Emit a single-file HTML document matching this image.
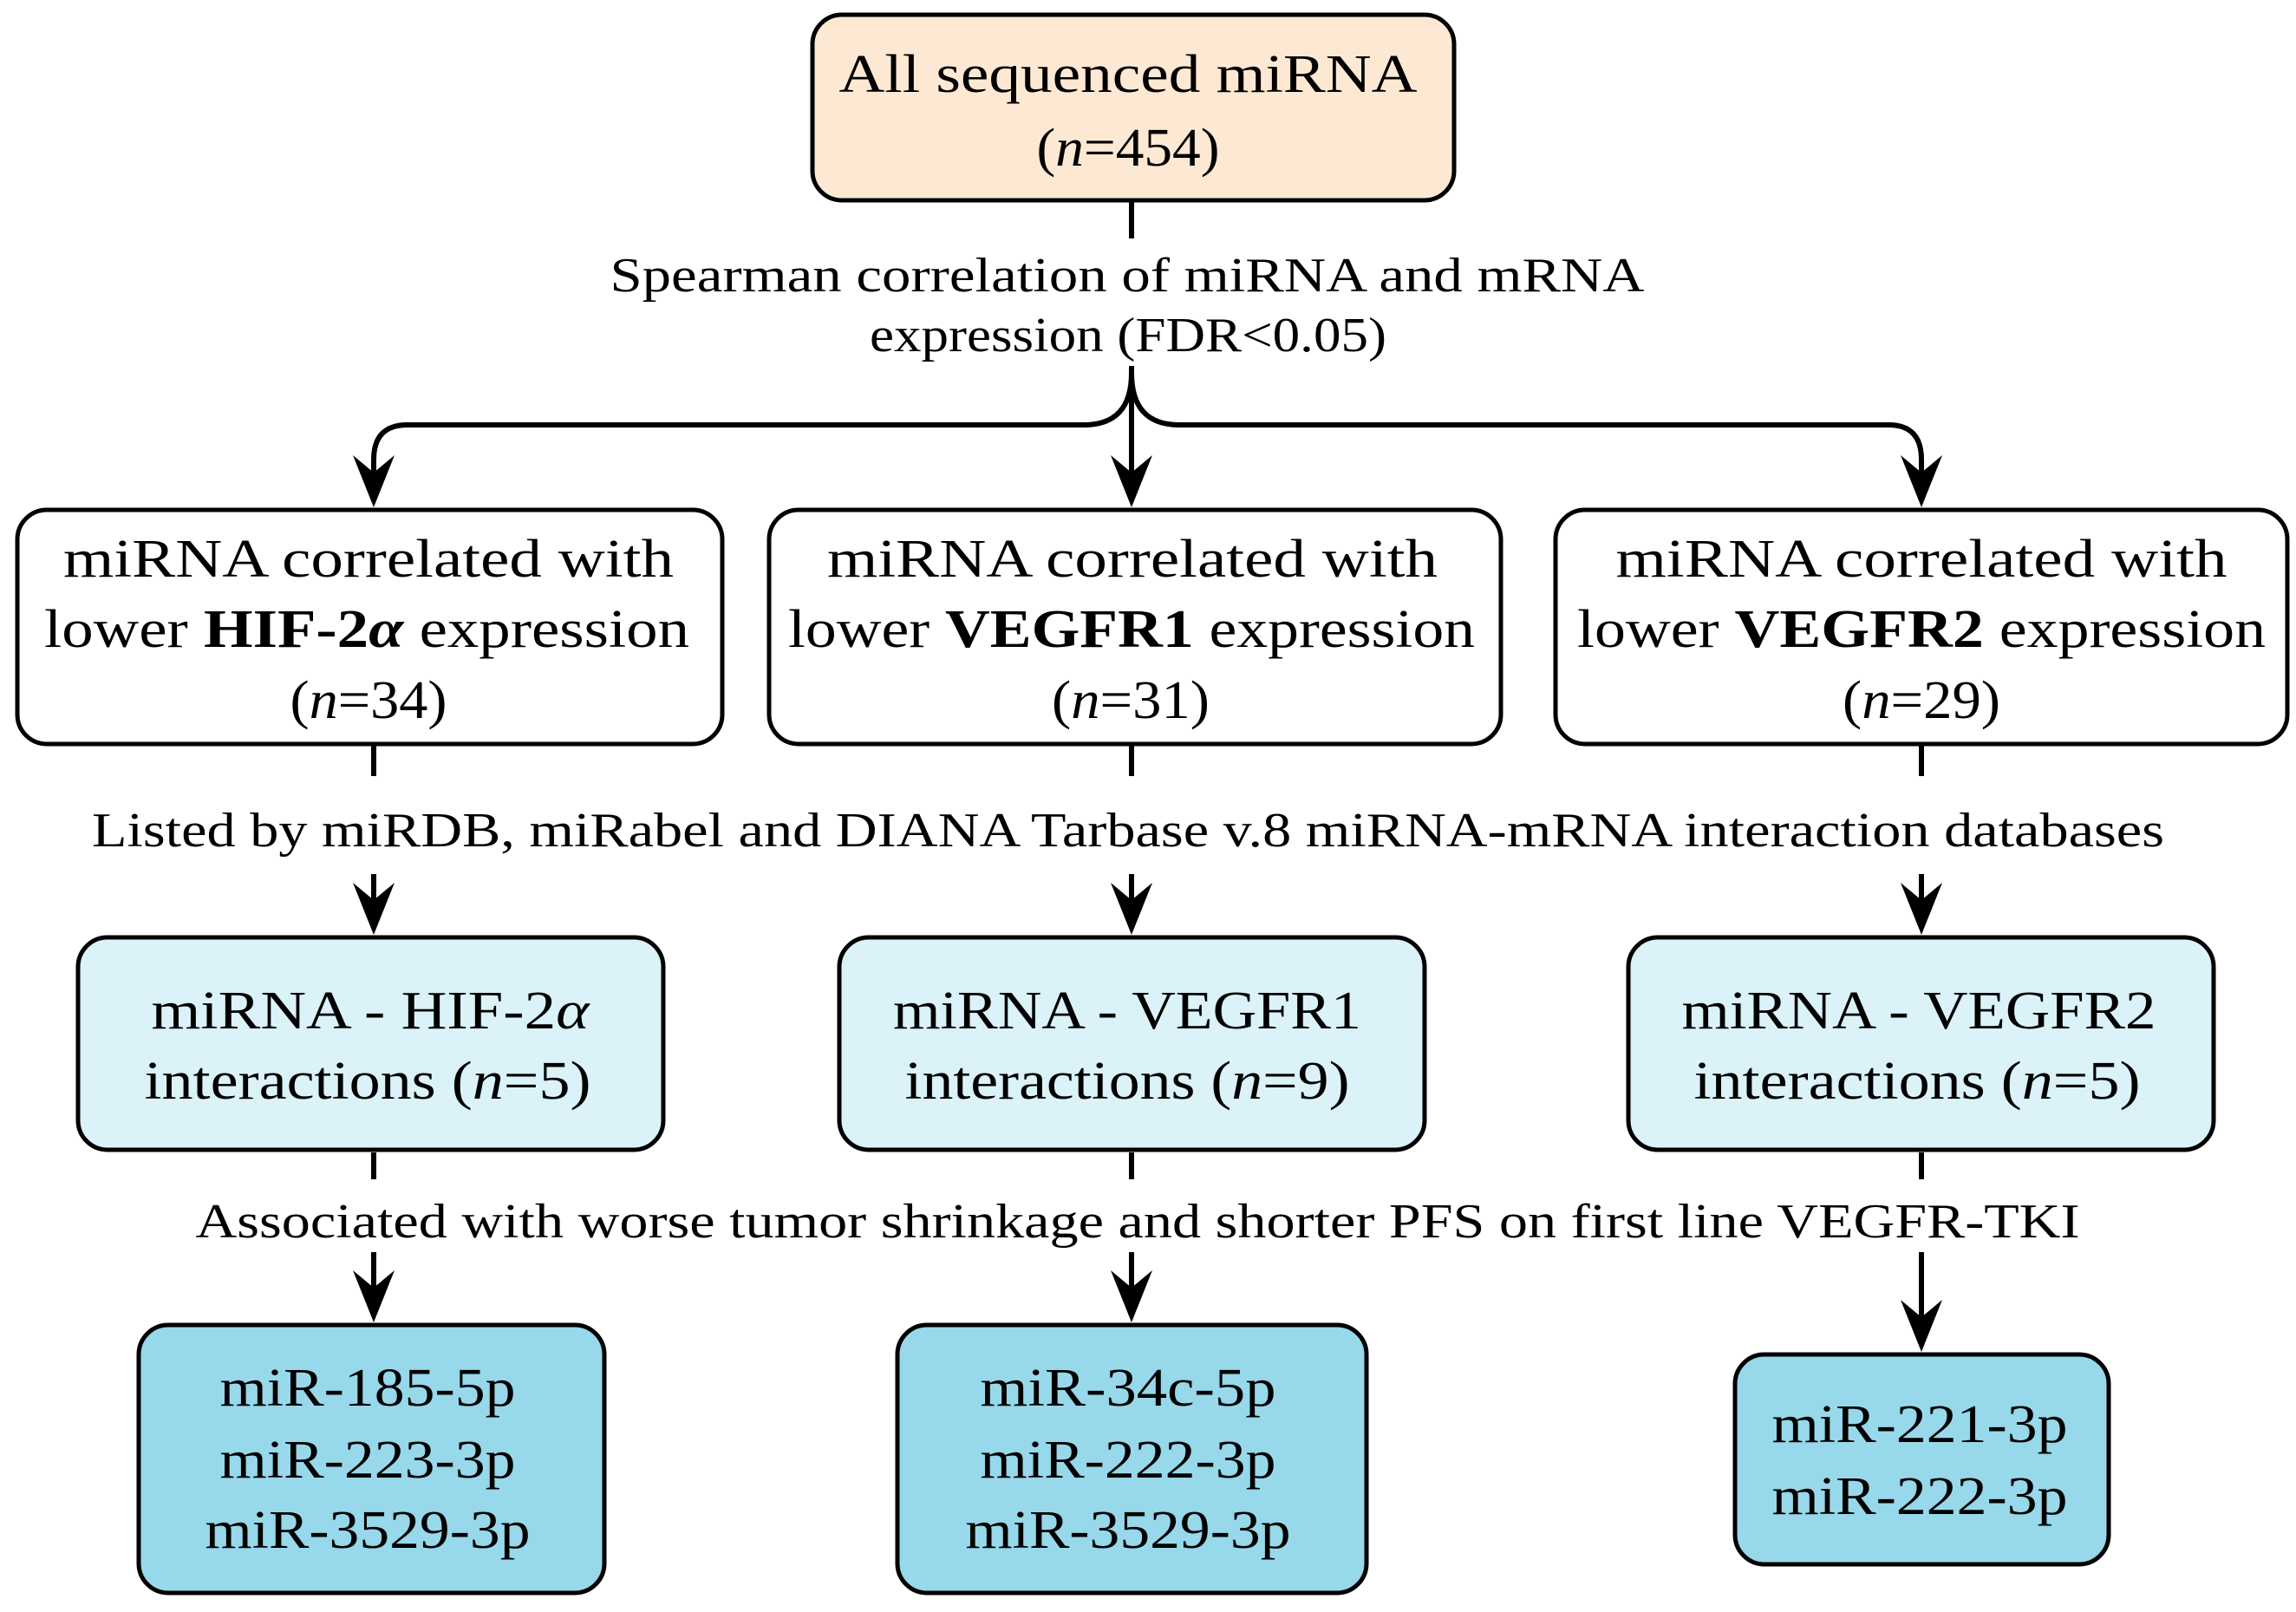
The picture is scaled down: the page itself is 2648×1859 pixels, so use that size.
<!DOCTYPE html>
<html><head><meta charset="utf-8"><style>html,body{margin:0;padding:0;background:#fff}svg{display:block}</style></head><body>
<svg width="2648" height="1859" viewBox="0 0 2648 1859" xmlns="http://www.w3.org/2000/svg" font-family="'Liberation Serif', serif" font-size="62" fill="#000">
<defs>
<path id="ah" d="M0,0 L-24,-60 L0,-40 L24,-60 Z" fill="#000"/>
</defs>
<g stroke="#000" stroke-width="5">
<rect x="937" y="17" width="740" height="214" rx="34" fill="#fde9d3"/>
<rect x="20" y="588" width="813" height="270" rx="34" fill="#fff"/>
<rect x="887" y="588" width="844" height="270" rx="34" fill="#fff"/>
<rect x="1794" y="588" width="844" height="270" rx="34" fill="#fff"/>
<rect x="90" y="1081" width="675" height="245" rx="34" fill="#daf2f8"/>
<rect x="968" y="1081" width="675" height="245" rx="34" fill="#daf2f8"/>
<rect x="1878" y="1081" width="675" height="245" rx="34" fill="#daf2f8"/>
<rect x="160" y="1528" width="537" height="309" rx="34" fill="#97d8ea"/>
<rect x="1035" y="1528" width="541" height="309" rx="34" fill="#97d8ea"/>
<rect x="2001" y="1562" width="431" height="242" rx="34" fill="#97d8ea"/>
</g>
<g stroke="#000" stroke-width="6" fill="none">
<line x1="1305" y1="231" x2="1305" y2="275"/>
<path d="M1305,422 L1305,560"/>
<path d="M1305,430 Q1305,490 1250,490 L470,490 Q431,490 431,530 L431,560"/>
<path d="M1305,430 Q1305,490 1360,490 L2178,490 Q2216,490 2216,530 L2216,560"/>
<line x1="431" y1="858" x2="431" y2="895"/>
<line x1="1305" y1="858" x2="1305" y2="895"/>
<line x1="2216" y1="858" x2="2216" y2="895"/>
<line x1="431" y1="1008" x2="431" y2="1050"/>
<line x1="1305" y1="1008" x2="1305" y2="1050"/>
<line x1="2216" y1="1008" x2="2216" y2="1050"/>
<line x1="431" y1="1329" x2="431" y2="1360"/>
<line x1="1305" y1="1329" x2="1305" y2="1360"/>
<line x1="2216" y1="1329" x2="2216" y2="1360"/>
<line x1="431" y1="1444" x2="431" y2="1495"/>
<line x1="1305" y1="1444" x2="1305" y2="1495"/>
<line x1="2216" y1="1444" x2="2216" y2="1530"/>
</g>
<use href="#ah" x="431" y="585"/><use href="#ah" x="1305" y="585"/><use href="#ah" x="2216" y="585"/>
<use href="#ah" x="431" y="1078"/><use href="#ah" x="1305" y="1078"/><use href="#ah" x="2216" y="1078"/>
<use href="#ah" x="431" y="1525"/><use href="#ah" x="1305" y="1525"/><use href="#ah" x="2216" y="1559"/>
<g text-anchor="middle">
<text x="1301" y="106" textLength="667" lengthAdjust="spacingAndGlyphs">All sequenced miRNA</text>
<text x="1301" y="191" textLength="211" lengthAdjust="spacingAndGlyphs">(<tspan font-style="italic">n</tspan>=454)</text>
<text x="1300" y="336" font-size="56" textLength="1193" lengthAdjust="spacingAndGlyphs">Spearman correlation of miRNA and mRNA</text>
<text x="1301" y="405" font-size="56" textLength="596" lengthAdjust="spacingAndGlyphs">expression (FDR&lt;0.05)</text>

<text x="425" y="665" textLength="704" lengthAdjust="spacingAndGlyphs">miRNA correlated with</text>
<text x="423" y="746" textLength="744" lengthAdjust="spacingAndGlyphs">lower <tspan font-weight="bold">HIF-2<tspan font-style="italic">α</tspan></tspan> expression</text>
<text x="425" y="828" textLength="181" lengthAdjust="spacingAndGlyphs">(<tspan font-style="italic">n</tspan>=34)</text>

<text x="1306" y="665" textLength="704" lengthAdjust="spacingAndGlyphs">miRNA correlated with</text>
<text x="1305" y="746" textLength="792" lengthAdjust="spacingAndGlyphs">lower <tspan font-weight="bold">VEGFR1</tspan> expression</text>
<text x="1304" y="828" textLength="182" lengthAdjust="spacingAndGlyphs">(<tspan font-style="italic">n</tspan>=31)</text>

<text x="2216" y="665" textLength="705" lengthAdjust="spacingAndGlyphs">miRNA correlated with</text>
<text x="2216" y="746" textLength="794" lengthAdjust="spacingAndGlyphs">lower <tspan font-weight="bold">VEGFR2</tspan> expression</text>
<text x="2216" y="828" textLength="182" lengthAdjust="spacingAndGlyphs">(<tspan font-style="italic">n</tspan>=29)</text>

<text x="1301" y="976" font-size="56" textLength="2390" lengthAdjust="spacingAndGlyphs">Listed by miRDB, miRabel and DIANA Tarbase v.8 miRNA-mRNA interaction databases</text>

<text x="427" y="1186" textLength="505" lengthAdjust="spacingAndGlyphs">miRNA - HIF-2<tspan font-style="italic">α</tspan></text>
<text x="424" y="1267" textLength="515" lengthAdjust="spacingAndGlyphs">interactions (<tspan font-style="italic">n</tspan>=5)</text>
<text x="1300" y="1186" textLength="540" lengthAdjust="spacingAndGlyphs">miRNA - VEGFR1</text>
<text x="1300" y="1267" textLength="513" lengthAdjust="spacingAndGlyphs">interactions (<tspan font-style="italic">n</tspan>=9)</text>
<text x="2213" y="1186" textLength="547" lengthAdjust="spacingAndGlyphs">miRNA - VEGFR2</text>
<text x="2211" y="1267" textLength="515" lengthAdjust="spacingAndGlyphs">interactions (<tspan font-style="italic">n</tspan>=5)</text>

<text x="1312" y="1427" font-size="56" textLength="2173" lengthAdjust="spacingAndGlyphs">Associated with worse tumor shrinkage and shorter PFS on first line VEGFR-TKI</text>

<text x="424" y="1621" textLength="341" lengthAdjust="spacingAndGlyphs">miR-185-5p</text>
<text x="424" y="1704" textLength="341" lengthAdjust="spacingAndGlyphs">miR-223-3p</text>
<text x="424" y="1785" textLength="375" lengthAdjust="spacingAndGlyphs">miR-3529-3p</text>
<text x="1301" y="1621" textLength="341" lengthAdjust="spacingAndGlyphs">miR-34c-5p</text>
<text x="1301" y="1704" textLength="341" lengthAdjust="spacingAndGlyphs">miR-222-3p</text>
<text x="1301" y="1785" textLength="375" lengthAdjust="spacingAndGlyphs">miR-3529-3p</text>
<text x="2214" y="1663" textLength="341" lengthAdjust="spacingAndGlyphs">miR-221-3p</text>
<text x="2214" y="1746" textLength="341" lengthAdjust="spacingAndGlyphs">miR-222-3p</text>
</g>
</svg>
</body></html>
